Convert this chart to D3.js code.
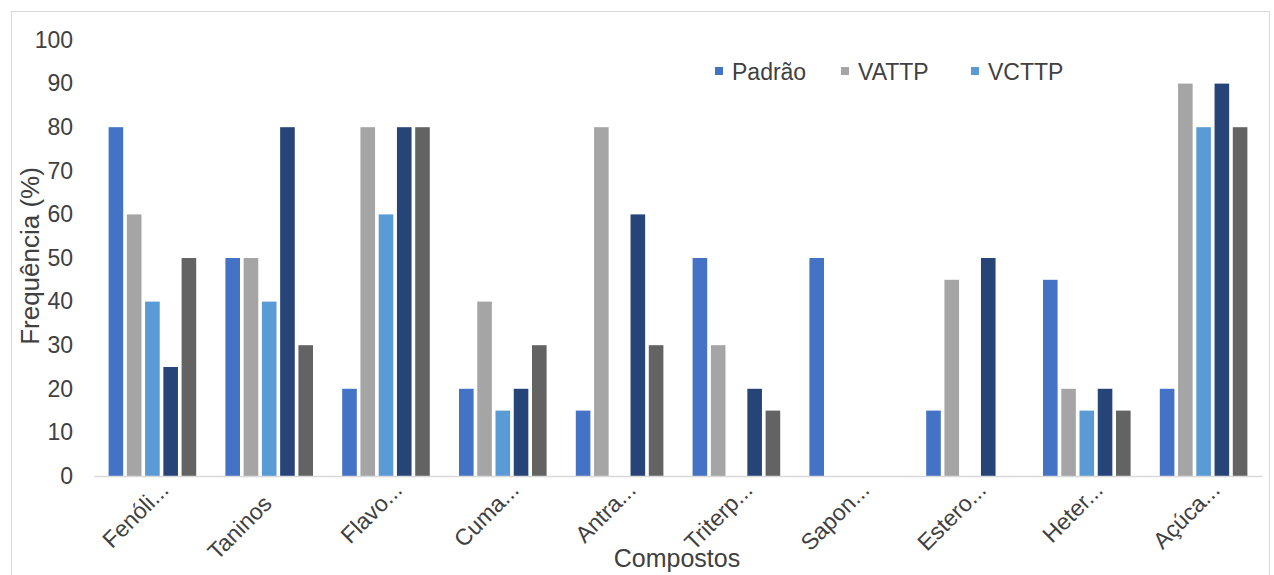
<!DOCTYPE html>
<html><head><meta charset="utf-8">
<script src="https://cdn.jsdelivr.net/npm/d3@7"></script>
<style>body{margin:0;background:#fff}svg{display:block}text{font-family:"Liberation Sans",Arial,sans-serif}</style>
</head><body><svg id="c" width="1274" height="575"></svg>
<script>
const categories = ["Fenóli...","Taninos","Flavo...","Cuma...","Antra...","Triterp...","Sapon...","Estero...","Heter...","Açúca..."];
const seriesNames = ["Padrão","VATTP","VCTTP","Série 4","Série 5"];
const legendNames = ["Padrão","VATTP","VCTTP"];
const padrao = [80,50,20,20,15,50,50,15,45,20];
const vattp  = [60,50,80,40,80,30,0,45,20,90];
const vcttp  = [40,40,60,15,0,0,0,0,15,80];
const serie4 = [25,80,80,20,60,20,0,50,20,90];
const serie5 = [50,30,80,30,30,15,0,0,15,80];
const yTicks = [0,10,20,30,40,50,60,70,80,90,100];
const colors = ["#4472C4","#A5A5A5","#5B9BD5","#264478","#636363"];
const seriesValues = [padrao,vattp,vcttp,serie4,serie5];

const svg = d3.select("#c");
svg.append("rect").attr("x",11.5).attr("y",11.5).attr("width",1258).attr("height",570).attr("fill","none").attr("stroke","#d9d9d9");

const x0 = d3.scaleBand().domain(categories).range([94,1262]).paddingInner(0).paddingOuter(0);
const x1 = d3.scaleBand().domain(seriesNames).range([0,x0.bandwidth()]).paddingInner(0.2).paddingOuter(0.8);
const y = d3.scaleLinear().domain([0,100]).range([476,40]);

// y axis labels
const ya = svg.append("g").attr("transform","translate(73,0)").call(d3.axisLeft(y).tickValues(yTicks).tickSize(0).tickPadding(0));
ya.select(".domain").remove();
ya.selectAll("text").attr("font-size",23).attr("fill","#404040").attr("font-family","Liberation Sans, Arial, sans-serif");

// bars
categories.forEach((c,i)=>{
  const g = svg.append("g").attr("transform",`translate(${x0(c)},0)`);
  seriesNames.forEach((s,j)=>{
    const v = seriesValues[j][i];
    if(v>0) g.append("rect").attr("x",x1(s)).attr("y",y(v)).attr("width",x1.bandwidth()).attr("height",y(0)-y(v)).attr("fill",colors[j]);
  });
});

// x axis
const xa = svg.append("g").attr("transform","translate(0,476)").call(d3.axisBottom(x0).tickSize(0).tickPadding(0));
xa.select(".domain").attr("stroke","#d9d9d9").attr("stroke-width",1.5);
// measure ellipsis width so the non-truncated part of each label is anchored at the tick
const tmp = svg.append("text").attr("font-size",23).text("...");
const ellW = tmp.node().getComputedTextLength();
tmp.remove();
xa.selectAll("text").attr("font-size",23).attr("fill","#404040").attr("font-family","Liberation Sans, Arial, sans-serif")
  .attr("text-anchor","end").attr("dy",null).attr("y",0)
  .attr("x", d => d.endsWith("...") ? ellW : 0)
  .attr("transform","translate(4,29) rotate(-45)");

// axis titles
svg.append("text").attr("x",677).attr("y",567).attr("text-anchor","middle").attr("font-size",25).attr("fill","#404040").text("Compostos");
svg.append("text").attr("transform","translate(39,256) rotate(-90)").attr("text-anchor","middle").attr("font-size",26).attr("fill","#404040").text("Frequência (%)");

// legend
const lx = [715,841,971];
legendNames.forEach((n,i)=>{
  svg.append("rect").attr("x",lx[i]).attr("y",67).attr("width",8).attr("height",8).attr("fill",colors[i]);
  svg.append("text").attr("x",lx[i]+17).attr("y",80).attr("font-size",23).attr("fill","#404040").text(n);
});
</script></body></html>
